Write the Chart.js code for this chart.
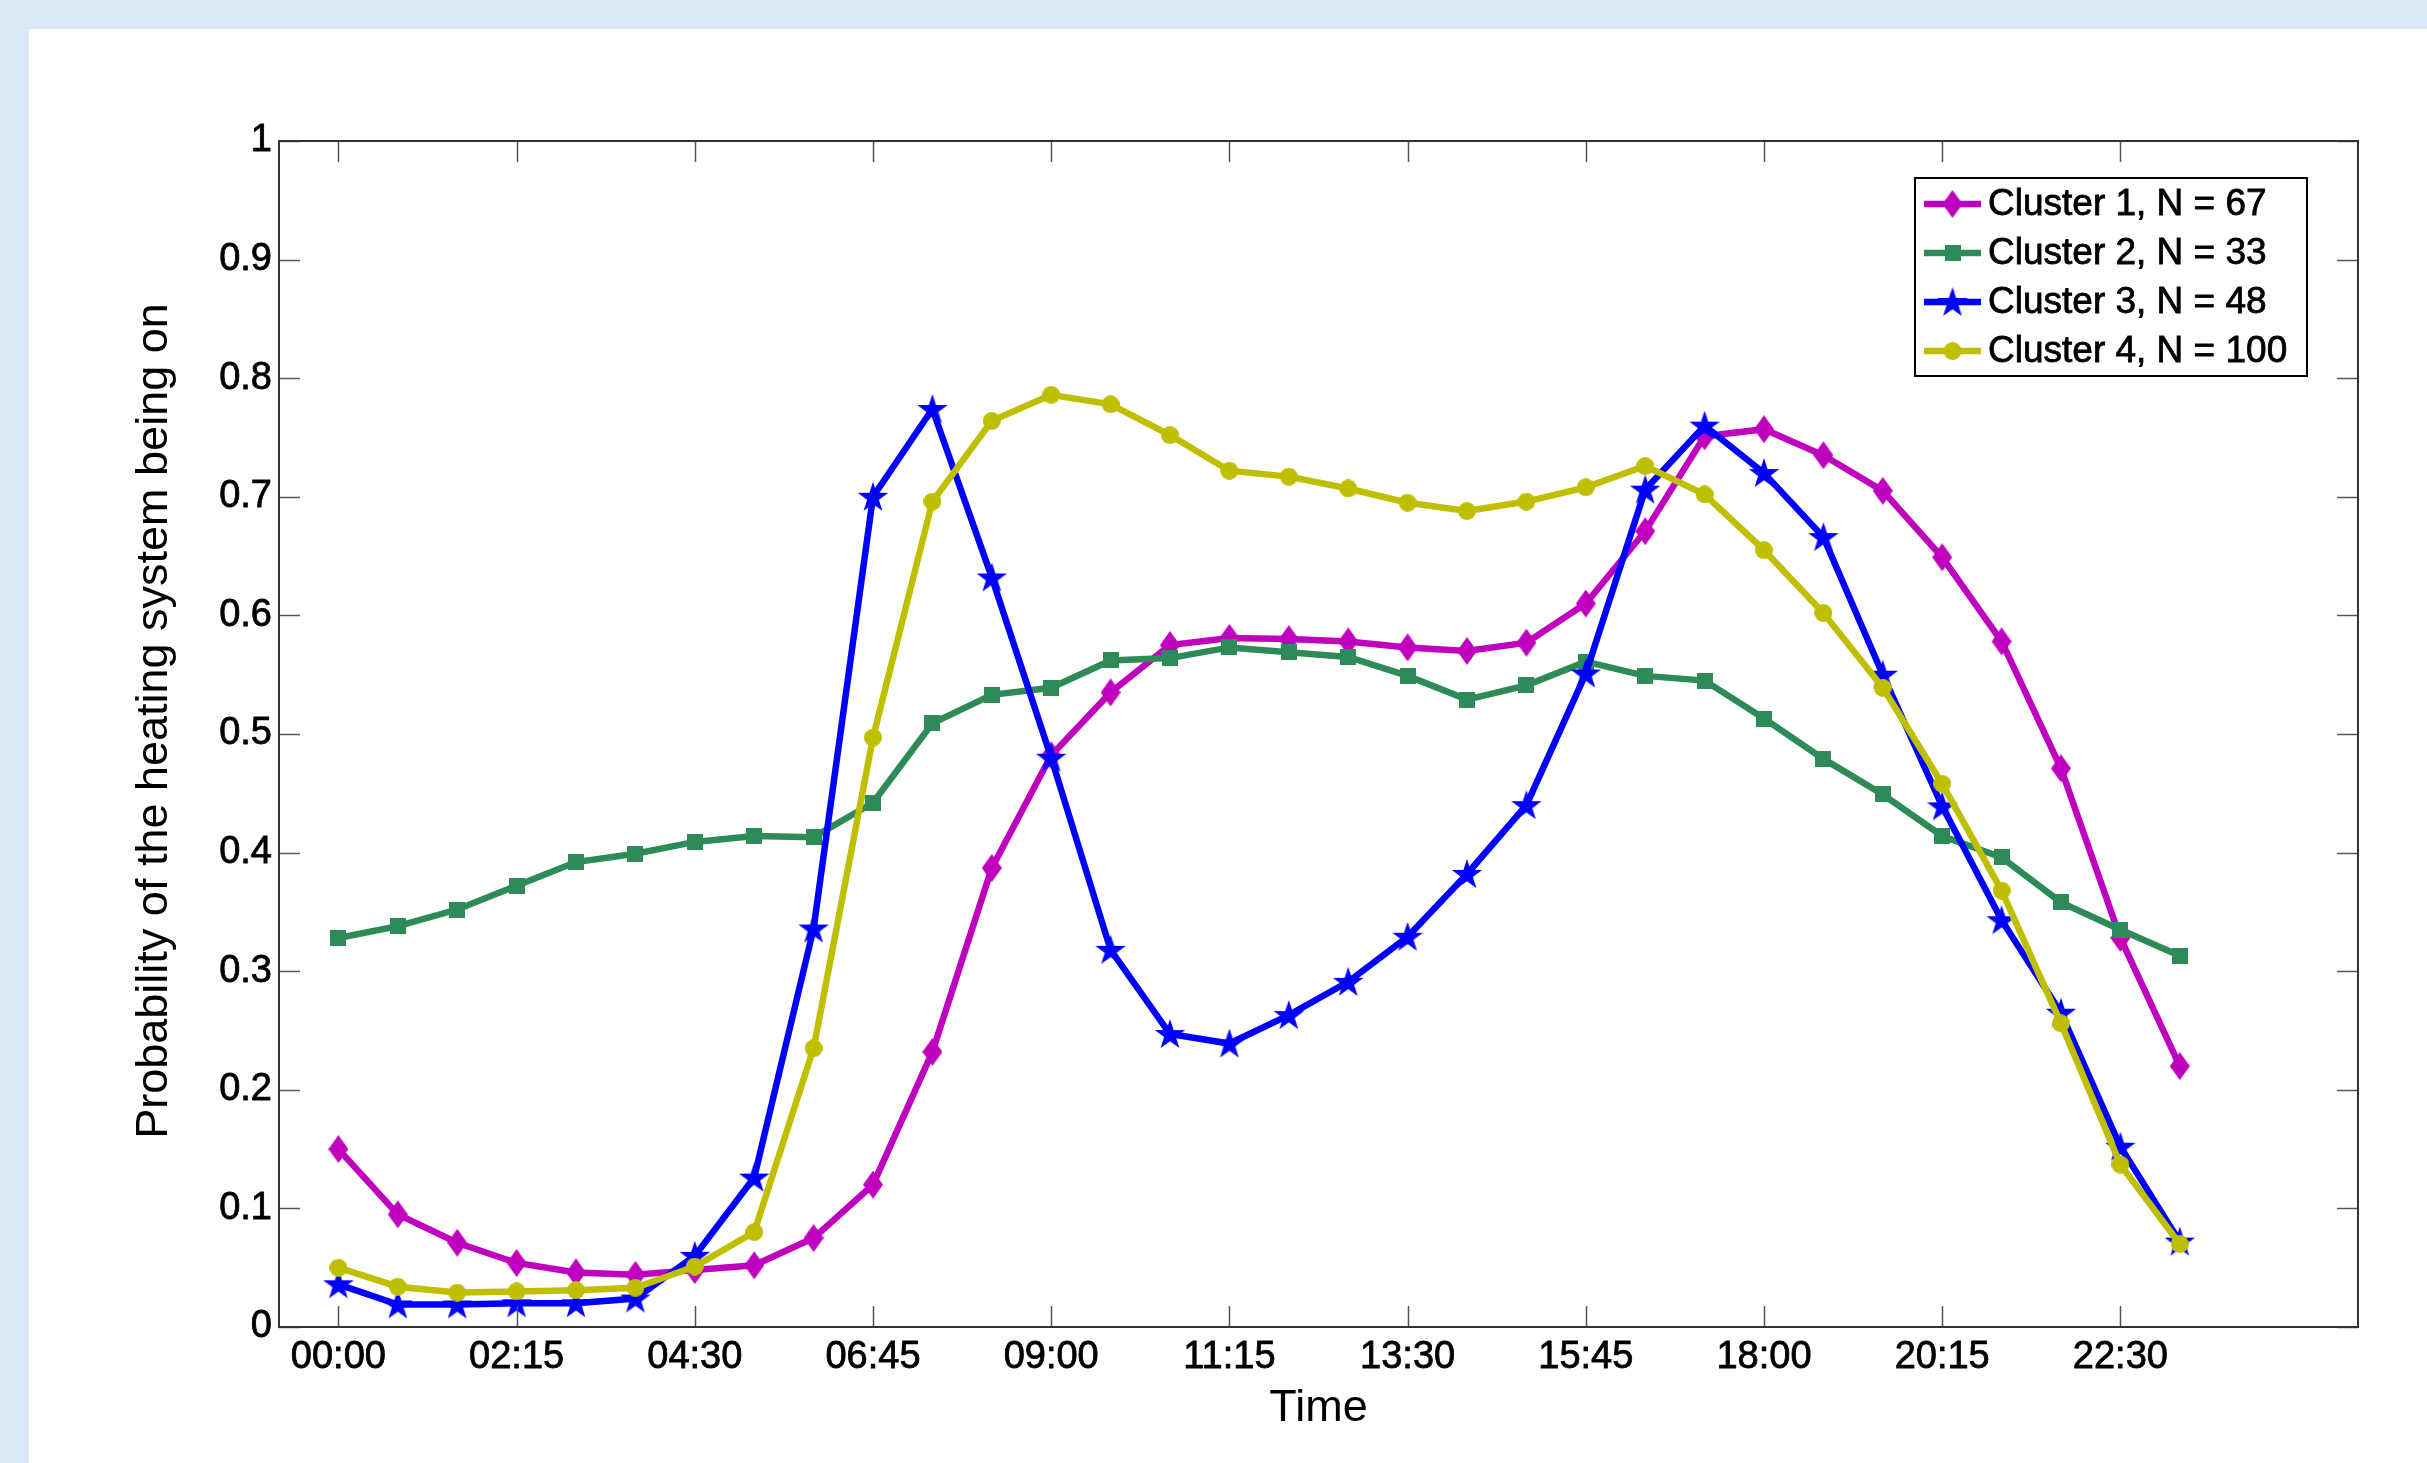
<!DOCTYPE html>
<html>
<head>
<meta charset="utf-8">
<script src="https://cdn.jsdelivr.net/npm/chart.js@4.4.0/dist/chart.umd.min.js"></script>
<style>
  body { margin: 0; background: #dae8f5; overflow: hidden; }
  #panel { position: absolute; left: 29px; top: 29px; width: 2398px; height: 1434px; background: #fff; }
</style>
</head>
<body>
<div id="panel"><canvas id="myChart" width="2398" height="1434"></canvas></div>
<script>
const times = ['00:00', '00:45', '01:30', '02:15', '03:00', '03:45', '04:30', '05:15',
    '06:00', '06:45', '07:30', '08:15', '09:00', '09:45', '10:30', '11:15',
    '12:00', '12:45', '13:30', '14:15', '15:00', '15:45', '16:30', '17:15',
    '18:00', '18:45', '19:30', '20:15', '21:00', '21:45', '22:30', '23:15'];
const tickLabels = ['00:00', '02:15', '04:30', '06:45', '09:00', '11:15', '13:30', '15:45', '18:00', '20:15', '22:30'];
const seriesNames = ['Cluster 1, N = 67', 'Cluster 2, N = 33', 'Cluster 3, N = 48', 'Cluster 4, N = 100'];

const cluster1 = [0.150, 0.095, 0.071, 0.054, 0.046, 0.044, 0.048, 0.052, 0.075, 0.120, 0.232, 0.387,
    0.482, 0.535, 0.575, 0.581, 0.580, 0.578, 0.573, 0.570, 0.577, 0.610, 0.671, 0.751,
    0.757, 0.735, 0.705, 0.649, 0.578, 0.471, 0.328, 0.220];
const cluster2 = [0.328, 0.338, 0.352, 0.372, 0.392, 0.399, 0.409, 0.414, 0.413, 0.442, 0.509, 0.533,
    0.539, 0.562, 0.564, 0.573, 0.569, 0.565, 0.549, 0.529, 0.541, 0.561, 0.549, 0.545,
    0.513, 0.479, 0.449, 0.414, 0.396, 0.358, 0.335, 0.313];
const cluster3 = [0.036, 0.019, 0.019, 0.020, 0.020, 0.024, 0.060, 0.126, 0.336, 0.700, 0.774, 0.632,
    0.480, 0.318, 0.247, 0.239, 0.263, 0.291, 0.329, 0.382, 0.440, 0.551, 0.706, 0.760,
    0.720, 0.666, 0.550, 0.439, 0.343, 0.265, 0.152, 0.072];
const cluster4 = [0.050, 0.034, 0.029, 0.030, 0.031, 0.033, 0.051, 0.080, 0.235, 0.497, 0.696, 0.764,
    0.786, 0.778, 0.752, 0.722, 0.717, 0.707, 0.695, 0.688, 0.696, 0.708, 0.726, 0.702,
    0.655, 0.602, 0.539, 0.458, 0.368, 0.256, 0.137, 0.070];

const FONT = '"Liberation Sans", Arial, Helvetica, sans-serif';
const colors = ['#bf00bf', '#2e8b57', '#0000ff', '#bfbf00'];

function toMinutes(t) {
    const parts = t.split(':');
    return parseInt(parts[0]) * 60 + parseInt(parts[1]);
}

// marker shapes (MATLAB style)
function makeMarker(kind, color) {
    const c = document.createElement('canvas');
    const ctx = c.getContext('2d');
    if (kind === 'diamond') {
        c.width = 20; c.height = 28;
        ctx.fillStyle = color;
        ctx.beginPath();
        ctx.moveTo(10, 0); ctx.lineTo(20, 14); ctx.lineTo(10, 28); ctx.lineTo(0, 14);
        ctx.closePath(); ctx.fill();
    } else if (kind === 'square') {
        c.width = 16; c.height = 16;
        ctx.fillStyle = color;
        ctx.fillRect(0, 0, 16, 16);
    } else if (kind === 'star') {
        c.width = 32; c.height = 32;
        ctx.fillStyle = color;
        const R = 16, r = 6.2, cx = 16, cy = 17;
        ctx.beginPath();
        for (let i = 0; i < 10; i++) {
            const rad = (i % 2 === 0) ? R : r;
            const ang = -Math.PI / 2 + i * Math.PI / 5;
            const px = cx + rad * Math.cos(ang), py = cy + rad * Math.sin(ang);
            if (i === 0) ctx.moveTo(px, py); else ctx.lineTo(px, py);
        }
        ctx.closePath(); ctx.fill();
    } else {
        c.width = 18; c.height = 18;
        ctx.fillStyle = color;
        ctx.beginPath(); ctx.arc(9, 9, 9, 0, Math.PI * 2); ctx.fill();
    }
    return c;
}

const markers = [
    makeMarker('diamond', colors[0]),
    makeMarker('square', colors[1]),
    makeMarker('star', colors[2]),
    makeMarker('circle', colors[3])
];

function buildPoints(values) {
    return values.map((v, i) => ({ x: toMinutes(times[i]), y: v }));
}

const allSeries = [cluster1, cluster2, cluster3, cluster4];
const datasets = allSeries.map((vals, i) => ({
    label: seriesNames[i],
    data: buildPoints(vals),
    borderColor: colors[i],
    backgroundColor: colors[i],
    borderWidth: 6.5,
    pointStyle: markers[i],
    pointRadius: 10,
    tension: 0,
    order: 4 - i
}));

const framePlugin = {
    id: 'frame',
    afterDraw(chart) {
        const ctx = chart.ctx;
        const a = chart.chartArea;
        const xs = chart.scales.x;
        const ys = chart.scales.y;
        ctx.save();
        // inward tick marks
        ctx.strokeStyle = '#555';
        ctx.lineWidth = 1.5;
        ctx.beginPath();
        xs.ticks.forEach(t => {
            const px = Math.round(xs.getPixelForValue(t.value)) + 0.5;
            ctx.moveTo(px, a.bottom); ctx.lineTo(px, a.bottom - 21);
            ctx.moveTo(px, a.top); ctx.lineTo(px, a.top + 21);
        });
        ys.ticks.forEach(t => {
            const py = Math.round(ys.getPixelForValue(t.value)) + 0.5;
            ctx.moveTo(a.left, py); ctx.lineTo(a.left + 21, py);
            ctx.moveTo(a.right, py); ctx.lineTo(a.right - 21, py);
        });
        ctx.stroke();
        // axes box
        ctx.strokeStyle = '#333';
        ctx.lineWidth = 2;
        ctx.strokeRect(a.left, a.top, a.right - a.left, a.bottom - a.top);

        // y axis title, drawn a little above centre as in the original
        ctx.save();
        ctx.translate(a.left - 124, (a.top + a.bottom) / 2 - 13);
        ctx.rotate(-Math.PI / 2);
        ctx.font = '45px ' + FONT;
        ctx.fillStyle = '#000';
        ctx.textAlign = 'center';
        ctx.textBaseline = 'middle';
        ctx.fillText('Probability of the heating system being on', 0, 0);
        ctx.restore();

        // legend box
        const bw = 392, bh = 198;
        const bx = a.right - 51 - bw, by = a.top + 37;
        ctx.fillStyle = '#fff';
        ctx.fillRect(bx, by, bw, bh);
        ctx.strokeStyle = '#000';
        ctx.lineWidth = 2;
        ctx.strokeRect(bx, by, bw, bh);
        ctx.font = '37px ' + FONT;
        ctx.textBaseline = 'middle';
        ctx.textAlign = 'left';
        chart.data.datasets.forEach((ds, i) => {
            const ry = by + 26 + i * 49;
            ctx.strokeStyle = ds.borderColor;
            ctx.lineWidth = 6.5;
            ctx.beginPath();
            ctx.moveTo(bx + 9, ry); ctx.lineTo(bx + 66, ry);
            ctx.stroke();
            const m = ds.pointStyle;
            ctx.drawImage(m, bx + 37.5 - m.width / 2, ry - m.height / 2);
            ctx.fillStyle = '#000';
            ctx.strokeStyle = '#000';
            ctx.lineWidth = 0.8;
            ctx.fillText(ds.label, bx + 73, ry + 1);
            ctx.strokeText(ds.label, bx + 73, ry + 1);
        });
        ctx.restore();
    }
};

const chartCtx = document.getElementById('myChart').getContext('2d');
const chart1 = new Chart(chartCtx, {
    type: 'line',
    data: { datasets: datasets },
    options: {
        responsive: false,
        animation: false,
        devicePixelRatio: 1,
        layout: { padding: { left: 0, top: 112, right: 69, bottom: 0 } },
        plugins: {
            legend: { display: false },
            tooltip: { enabled: false }
        },
        scales: {
            x: {
                type: 'linear',
                min: -45,
                max: 1530,
                grid: { display: false, drawTicks: false },
                border: { display: false },
                afterBuildTicks: (scale) => {
                    scale.ticks = tickLabels.map(t => ({ value: toMinutes(t) }));
                },
                afterFit: (scale) => { scale.height = 136; },
                ticks: {
                    autoSkip: false,
                    maxRotation: 0,
                    padding: 8,
                    color: '#000',
                    textStrokeColor: '#000',
                    textStrokeWidth: 0.8,
                    font: { size: 38, family: FONT },
                    callback: (value, index) => tickLabels[index]
                },
                title: {
                    display: true,
                    text: 'Time',
                    color: '#000',
                    font: { size: 45, family: FONT },
                    padding: { top: 0, bottom: 27 }
                }
            },
            y: {
                min: 0,
                max: 1,
                grid: { display: false, drawTicks: false },
                border: { display: false },
                afterFit: (scale) => { scale.width = 250; },
                ticks: {
                    stepSize: 0.1,
                    padding: 7,
                    color: '#000',
                    textStrokeColor: '#000',
                    textStrokeWidth: 0.8,
                    font: { size: 38, family: FONT },
                    callback: (value) => String(Math.round(value * 10) / 10)
                },
                title: { display: false }
            }
        }
    },
    plugins: [framePlugin]
});
</script>
</body>
</html>
